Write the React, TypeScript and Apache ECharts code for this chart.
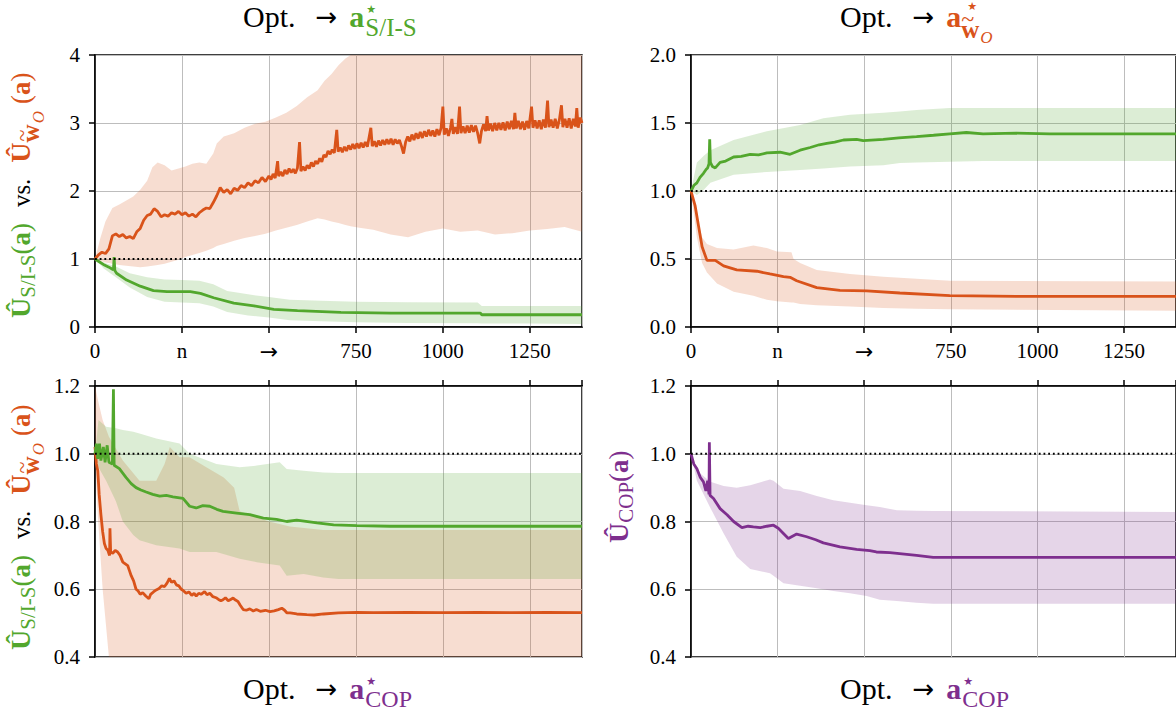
import React, { useEffect, useRef } from "react";
import * as echarts from "echarts";

const FONT = "'Liberation Serif', 'DejaVu Serif', serif";
const SANS = "'DejaVu Sans', sans-serif";
const GREEN = "#52a72d";
const ORANGE = "#d9531a";
const PURPLE = "#7e2f8e";
const GREEN_FILL = "rgba(82,167,45,0.2)";
const ORANGE_FILL = "rgba(217,83,26,0.2)";
const PURPLE_FILL = "rgba(126,47,142,0.2)";

// x tick labels of the two upper panels (values 0,250,...,1250)
const xTickLabels = ["0", "n", "→", "750", "1000", "1250"];

// ---------- top-left panel (Opt. -> a*_S/I-S) ----------
const tlGreen: [number, number][] = [
  [0, 1.0], [12, 0.96], [24, 0.92], [40, 0.88], [50, 0.85], [53, 0.84], [55, 1.03], [57, 0.83], [62, 0.79],
  [91, 0.69], [130, 0.6], [168, 0.535], [207, 0.52], [240, 0.52], [274, 0.52], [303, 0.495], [341, 0.43],
  [399, 0.35], [457, 0.31], [514, 0.26], [582, 0.24], [707, 0.215], [851, 0.205], [1108, 0.205], [1112, 0.18], [1400, 0.18],
];
// [x, lower, upper]
const tlGreenBand: [number, number, number][] = [
  [0, 1.0, 1.0], [25, 0.86, 0.95], [60, 0.73, 0.89], [100, 0.58, 0.79], [150, 0.44, 0.73], [200, 0.37, 0.7],
  [250, 0.36, 0.69], [300, 0.35, 0.68], [340, 0.3, 0.63], [380, 0.22, 0.53], [440, 0.17, 0.48], [500, 0.14, 0.44],
  [560, 0.1, 0.4], [650, 0.085, 0.385], [750, 0.07, 0.37], [900, 0.06, 0.365], [1100, 0.055, 0.36],
  [1112, 0.05, 0.31], [1250, 0.05, 0.31], [1400, 0.045, 0.31],
];
const tlOrange: [number, number][] = [
  [0, 1.0], [10, 1.06], [20, 1.1], [30, 1.08], [40, 1.15], [50, 1.34], [60, 1.37], [70, 1.33], [80, 1.36], [90, 1.31],
  [100, 1.33], [110, 1.3], [120, 1.4], [130, 1.45], [140, 1.57], [150, 1.64], [160, 1.66], [170, 1.74], [180, 1.7],
  [190, 1.62], [200, 1.65], [210, 1.63], [220, 1.68], [230, 1.66], [240, 1.7], [250, 1.65], [260, 1.68], [270, 1.63],
  [280, 1.66], [290, 1.62], [300, 1.68], [310, 1.72], [320, 1.75], [330, 1.74], [340, 1.83], [350, 1.93], [360, 2.05],
  [370, 1.98], [380, 2.02], [390, 1.96], [400, 2.04], [410, 2.01], [420, 2.08], [430, 2.05], [440, 2.12], [450, 2.08],
  [460, 2.15], [470, 2.12], [480, 2.2], [490, 2.14],
  [500, 2.22], [506, 2.17], [512, 2.25], [518, 2.19], [525, 2.44], [528, 2.22], [534, 2.28], [540, 2.22], [546, 2.31],
  [552, 2.25], [558, 2.33], [564, 2.27], [570, 2.32], [576, 2.26], [582, 2.34], [588, 2.72], [592, 2.29], [598, 2.36],
  [604, 2.3], [610, 2.38], [616, 2.33], [622, 2.42], [628, 2.36], [634, 2.44], [640, 2.4], [646, 2.48], [652, 2.43],
  [658, 2.53], [664, 2.5], [670, 2.59], [676, 2.54], [682, 2.61], [688, 2.56], [695, 2.9], [699, 2.58], [705, 2.64],
  [711, 2.57], [717, 2.65], [723, 2.59], [729, 2.67], [735, 2.61], [741, 2.69], [747, 2.62], [753, 2.7], [759, 2.63],
  [765, 2.71], [771, 2.64], [777, 2.72], [783, 2.65], [793, 2.93], [797, 2.66], [803, 2.73], [809, 2.65], [815, 2.74],
  [821, 2.67], [827, 2.75], [833, 2.68], [839, 2.76], [845, 2.69], [851, 2.77], [857, 2.68], [863, 2.76], [869, 2.7],
  [875, 2.75], [881, 2.66], [887, 2.55], [893, 2.72], [899, 2.8], [905, 2.73], [911, 2.83], [917, 2.75], [923, 2.85],
  [929, 2.77], [935, 2.87], [941, 2.78], [947, 2.88], [953, 2.8], [959, 2.9], [965, 2.81], [971, 2.89], [977, 2.8],
  [983, 2.91], [989, 2.82], [995, 2.93], [1000, 3.24], [1004, 2.83], [1010, 2.92], [1016, 2.81], [1022, 2.93],
  [1026, 3.06], [1030, 2.84], [1036, 2.94], [1042, 2.84], [1048, 3.24], [1052, 2.85], [1058, 2.95], [1064, 2.85],
  [1070, 2.96], [1076, 2.86], [1082, 2.97], [1088, 2.87], [1094, 2.96], [1100, 2.85], [1106, 2.7], [1111, 2.88],
  [1117, 2.98], [1123, 2.88], [1127, 3.1], [1131, 2.89], [1137, 2.99], [1143, 2.88], [1149, 3.0], [1155, 2.89],
  [1161, 3.0], [1167, 2.9], [1173, 3.01], [1179, 2.89], [1185, 3.02], [1191, 2.91], [1197, 3.03], [1203, 2.91],
  [1207, 3.15], [1211, 2.92], [1217, 3.03], [1223, 2.91], [1229, 3.02], [1235, 2.9], [1241, 3.03], [1247, 2.92],
  [1255, 3.24], [1259, 2.93], [1265, 3.04], [1271, 2.92], [1277, 3.04], [1283, 2.91], [1289, 3.05], [1295, 2.93],
  [1301, 3.33], [1305, 2.94], [1311, 3.05], [1317, 2.93], [1323, 3.06], [1329, 2.92], [1335, 3.05], [1341, 3.26],
  [1345, 2.94], [1351, 3.06], [1357, 2.93], [1363, 3.07], [1369, 2.92], [1375, 3.06], [1381, 2.95], [1385, 3.22],
  [1389, 2.93], [1395, 3.08], [1400, 3.0],
];
const tlOrangeBand: [number, number, number][] = [
  [0, 1.0, 1.0], [15, 0.97, 1.3], [30, 0.95, 1.55], [50, 0.93, 1.75], [70, 0.91, 1.8], [90, 0.9, 1.86],
  [110, 0.89, 1.92], [130, 0.88, 2.02], [150, 0.89, 2.15], [165, 0.9, 2.35], [180, 0.91, 2.42], [200, 0.93, 2.38],
  [220, 0.96, 2.3], [240, 0.99, 2.33], [260, 1.03, 2.36], [280, 1.06, 2.4], [300, 1.09, 2.42], [320, 1.12, 2.4],
  [340, 1.16, 2.55], [350, 1.19, 2.7], [370, 1.22, 2.8], [400, 1.27, 2.85], [430, 1.31, 2.93], [460, 1.34, 2.99],
  [490, 1.37, 3.02], [520, 1.42, 3.08], [550, 1.46, 3.15], [580, 1.5, 3.25], [610, 1.55, 3.38], [640, 1.6, 3.48],
  [660, 1.58, 3.62], [680, 1.55, 3.72], [700, 1.53, 3.85], [720, 1.5, 3.95], [735, 1.48, 4.0], [760, 1.46, 4.0],
  [800, 1.43, 4.0], [850, 1.36, 4.0], [900, 1.32, 4.0], [950, 1.4, 4.0], [1000, 1.45, 4.0], [1050, 1.4, 4.0],
  [1100, 1.42, 4.0], [1150, 1.36, 4.0], [1200, 1.38, 4.0], [1250, 1.42, 4.0], [1300, 1.44, 4.0], [1350, 1.47, 4.0],
  [1400, 1.4, 4.0],
];

// ---------- top-right panel (Opt. -> a*_w~O) ----------
const trGreen: [number, number][] = [
  [0, 1.0], [8, 1.04], [17, 1.06], [26, 1.1], [36, 1.13], [44, 1.16], [48, 1.17], [52, 1.2], [54, 1.38], [56, 1.21],
  [62, 1.18], [70, 1.17], [84, 1.21], [100, 1.22], [123, 1.25], [145, 1.255], [171, 1.27], [195, 1.265], [219, 1.28],
  [257, 1.285], [286, 1.27], [315, 1.3], [344, 1.32], [370, 1.34], [392, 1.35], [415, 1.36], [440, 1.375], [478, 1.38],
  [497, 1.37], [555, 1.38], [600, 1.39], [651, 1.4], [700, 1.41], [747, 1.42], [795, 1.43], [843, 1.42],
  [939, 1.425], [1035, 1.42], [1400, 1.42],
];
const trGreenBand: [number, number, number][] = [
  [0, 1.0, 1.0], [17, 0.97, 1.21], [37, 1.01, 1.26], [56, 1.06, 1.3], [123, 1.12, 1.375], [219, 1.14, 1.44],
  [315, 1.155, 1.485], [382, 1.165, 1.535], [459, 1.18, 1.56], [555, 1.19, 1.575], [603, 1.205, 1.585],
  [651, 1.21, 1.595], [747, 1.215, 1.61], [843, 1.22, 1.61], [1400, 1.22, 1.61],
];
const trOrange: [number, number][] = [
  [0, 1.0], [12, 0.89], [22, 0.74], [32, 0.59], [46, 0.49], [70, 0.49], [94, 0.45], [132, 0.42], [190, 0.41],
  [228, 0.39], [267, 0.37], [286, 0.365], [305, 0.34], [363, 0.29], [430, 0.27], [507, 0.265], [603, 0.25],
  [747, 0.23], [939, 0.225], [1400, 0.225],
];
const trOrangeBand: [number, number, number][] = [
  [0, 1.0, 1.0], [17, 0.66, 0.81], [32, 0.47, 0.66], [46, 0.4, 0.61], [75, 0.32, 0.58], [123, 0.26, 0.57],
  [180, 0.23, 0.6], [219, 0.2, 0.58], [248, 0.19, 0.555], [290, 0.18, 0.55], [296, 0.18, 0.5], [315, 0.17, 0.47],
  [363, 0.16, 0.42], [459, 0.15, 0.39], [555, 0.14, 0.37], [651, 0.135, 0.355], [747, 0.13, 0.34], [1400, 0.12, 0.335],
];

// ---------- bottom-left panel (Opt. -> a*_COP) ----------
const blGreen: [number, number][] = [
  [0, 1.0], [4, 1.03], [8, 0.985], [13, 1.03], [17, 0.98], [24, 1.02], [29, 0.975], [35, 1.025], [40, 0.975],
  [50, 0.97], [53, 1.19], [55, 0.966], [70, 0.956], [89, 0.93], [104, 0.912], [118, 0.9], [132, 0.893], [147, 0.887],
  [166, 0.88], [186, 0.875], [205, 0.877], [224, 0.873], [253, 0.868], [272, 0.845], [291, 0.84], [310, 0.847],
  [330, 0.845], [350, 0.836], [368, 0.83], [407, 0.825], [445, 0.82], [484, 0.81], [522, 0.806], [551, 0.8],
  [580, 0.804], [638, 0.796], [686, 0.79], [753, 0.788], [849, 0.786], [1400, 0.786],
];
const blGreenBand: [number, number, number][] = [
  [0, 1.0, 1.0], [10, 0.96, 1.1], [32, 0.92, 1.08], [60, 0.86, 1.075], [80, 0.8, 1.07], [110, 0.76, 1.065],
  [128, 0.745, 1.06], [176, 0.73, 1.045], [243, 0.72, 1.03], [272, 0.71, 1.0], [349, 0.71, 0.97], [416, 0.69, 0.96],
  [465, 0.68, 0.965], [531, 0.67, 0.975], [551, 0.64, 0.955], [600, 0.645, 0.95], [656, 0.635, 0.945],
  [700, 0.63, 0.943], [1400, 0.63, 0.943],
];
const blOrange: [number, number][] = [
  [0, 1.02], [4, 0.97], [8, 0.95], [12, 0.88], [17, 0.82], [22, 0.77], [27, 0.735], [32, 0.72], [37, 0.715], [40, 0.705],
  [42, 0.7], [43, 0.78], [45, 0.71], [51, 0.706], [58, 0.715], [65, 0.71], [72, 0.7], [80, 0.68], [87, 0.675], [94, 0.67],
  [99, 0.655], [104, 0.64], [111, 0.625], [118, 0.6], [124, 0.595], [130, 0.585], [137, 0.59], [146, 0.58], [155, 0.572],
  [160, 0.585], [168, 0.592], [176, 0.598], [184, 0.602], [192, 0.61], [200, 0.608], [207, 0.618], [214, 0.632],
  [220, 0.62], [227, 0.625], [234, 0.613], [241, 0.61], [248, 0.6], [255, 0.595], [262, 0.588], [270, 0.592],
  [278, 0.582], [285, 0.588], [291, 0.58], [298, 0.588], [305, 0.585], [315, 0.593], [322, 0.584], [330, 0.588],
  [339, 0.578], [348, 0.575], [355, 0.57], [362, 0.566], [368, 0.569], [375, 0.575], [383, 0.566], [390, 0.57],
  [397, 0.574], [404, 0.568], [411, 0.564], [418, 0.552], [426, 0.54], [435, 0.538], [445, 0.542], [455, 0.536],
  [464, 0.54], [475, 0.535], [490, 0.538], [503, 0.534], [515, 0.536], [527, 0.54], [537, 0.544], [545, 0.538],
  [552, 0.53], [561, 0.53], [580, 0.527], [609, 0.525], [630, 0.524], [657, 0.527], [700, 0.53], [753, 0.532],
  [800, 0.531], [900, 0.532], [1000, 0.531], [1100, 0.532], [1200, 0.531], [1300, 0.532], [1400, 0.531],
];
const blOrangeBand: [number, number, number][] = [
  [0, 1.0, 1.2], [8, 0.82, 1.16], [22, 0.6, 1.1], [40, 0.4, 1.05], [80, 0.4, 0.98], [128, 0.4, 0.92],
  [176, 0.4, 0.92], [200, 0.4, 0.97], [215, 0.4, 1.02], [243, 0.4, 0.99], [272, 0.4, 0.99], [320, 0.4, 0.96],
  [370, 0.4, 0.93], [400, 0.4, 0.9], [416, 0.4, 0.83], [500, 0.4, 0.8], [560, 0.4, 0.785], [656, 0.4, 0.775],
  [1400, 0.4, 0.775],
];

// ---------- bottom-right panel (Opt. -> a*_COP) ----------
const brPurple: [number, number][] = [
  [0, 1.0], [8, 0.97], [17, 0.956], [27, 0.93], [36, 0.917], [43, 0.89], [48, 0.92], [52, 0.88], [53, 1.034],
  [55, 0.877], [65, 0.868], [84, 0.838], [104, 0.82], [123, 0.8], [147, 0.782], [165, 0.786], [180, 0.784],
  [200, 0.782], [219, 0.786], [238, 0.789], [252, 0.78], [281, 0.75], [305, 0.763], [334, 0.755], [360, 0.746],
  [382, 0.737], [430, 0.725], [478, 0.718], [516, 0.714], [535, 0.71], [574, 0.708], [651, 0.7], [699, 0.694],
  [1400, 0.694],
];
const brPurpleBand: [number, number, number][] = [
  [0, 1.0, 1.0], [17, 0.92, 0.95], [56, 0.84, 0.917], [94, 0.765, 0.905], [132, 0.696, 0.9], [171, 0.66, 0.907],
  [228, 0.647, 0.924], [238, 0.64, 0.92], [267, 0.618, 0.897], [315, 0.61, 0.89], [363, 0.603, 0.875],
  [411, 0.595, 0.863], [459, 0.588, 0.855], [507, 0.58, 0.848], [545, 0.569, 0.843], [594, 0.565, 0.833],
  [651, 0.56, 0.832], [699, 0.557, 0.831], [1400, 0.557, 0.828],
];

// ---------- text helpers ----------
let measureCtx: CanvasRenderingContext2D | null = null;
function textWidth(t: string, s: number, w: string, st: string, ff: string) {
  if (!measureCtx) measureCtx = document.createElement("canvas").getContext("2d");
  measureCtx!.font = `${st} ${w} ${s}px ${ff}`;
  return measureCtx!.measureText(t).width;
}
type Piece = { t?: string; s?: number; w?: string; i?: boolean; c?: string; dy?: number; dx?: number; noAdv?: boolean; gap?: number; ff?: string };
function compose(pieces: Piece[], x: number, y: number, rotation = 0) {
  let cur = 0;
  const children: any[] = [];
  for (const p of pieces) {
    if (p.t === undefined) { cur += p.gap ?? 0; continue; }
    const s = p.s ?? 28;
    const w = p.w ?? "normal";
    const st = p.i ? "italic" : "normal";
    const ff = p.ff ?? FONT;
    const width = textWidth(p.t, s, w, st, ff);
    children.push({
      type: "text",
      x: cur + (p.dx ?? 0),
      y: (p.dy ?? 0) - 0.34 * s,
      silent: true,
      style: {
        text: p.t, fontSize: s, fontWeight: w, fontStyle: st, fontFamily: ff, fill: p.c ?? "#000",
        textAlign: "left", align: "left", textVerticalAlign: "middle", verticalAlign: "middle",
      },
    });
    if (!p.noAdv) cur += width + (p.dx ?? 0);
  }
  return { type: "group", x, y, rotation, children };
}

const STAR = "★";
function titlePieces(color: string, kind: "sis" | "w" | "cop"): Piece[] {
  const base: Piece[] = [
    { t: "Opt.", s: 30 }, { gap: 20 }, { t: "→", s: 26, ff: SANS, dy: -1 }, { gap: 12 },
    { t: "a", s: 30, w: "bold", c: color },
  ];
  if (kind === "sis") return [...base, { t: STAR, s: 11, ff: SANS, c: color, dy: -14, dx: 2, noAdv: true }, { t: "S/I-S", s: 25, c: color, dy: 9, dx: 1 }];
  if (kind === "cop") return [...base, { t: STAR, s: 11, ff: SANS, c: color, dy: -14, dx: 2, noAdv: true }, { t: "COP", s: 24, c: color, dy: 8, dx: 1 }];
  return [
    ...base,
    { t: STAR, s: 11, ff: SANS, c: color, dy: -17, dx: 6, noAdv: true },
    { t: "~", s: 24, c: color, dy: 0, dx: 0, noAdv: true },
    { t: "w", s: 25, w: "bold", c: color, dy: 11 },
    { t: "O", s: 17, i: true, c: color, dy: 16, dx: 1 },
  ];
}
function sisWoLabel(): Piece[] {
  return [
    { t: "Û", s: 28, w: "bold", c: GREEN },
    { t: "S/I-S", s: 21, c: GREEN, dy: 5 },
    { t: "(", s: 27, c: GREEN }, { t: "a", s: 27, w: "bold", c: GREEN }, { t: ")", s: 27, c: GREEN },
    { gap: 16 },
    { t: "vs.", s: 25, c: "#000" },
    { gap: 16 },
    { t: "Û", s: 28, w: "bold", c: ORANGE },
    { t: "~", s: 22, c: ORANGE, dy: -1, dx: 1, noAdv: true },
    { t: "w", s: 25, w: "bold", c: ORANGE, dy: 9 },
    { t: "O", s: 17, i: true, c: ORANGE, dy: 14, dx: 1 },
    { gap: 7 },
    { t: "(", s: 27, c: ORANGE }, { t: "a", s: 27, w: "bold", c: ORANGE }, { t: ")", s: 27, c: ORANGE },
  ];
}
function copLabel(): Piece[] {
  return [
    { t: "Û", s: 28, w: "bold", c: PURPLE },
    { t: "COP", s: 21, c: PURPLE, dy: 5 },
    { t: "(", s: 27, c: PURPLE }, { t: "a", s: 27, w: "bold", c: PURPLE }, { t: ")", s: 27, c: PURPLE },
  ];
}

const GRIDS = [
  { left: 95, top: 55, width: 487, height: 272 },
  { left: 691, top: 55, width: 487, height: 272 },
  { left: 95, top: 386, width: 487, height: 271 },
  { left: 691, top: 386, width: 487, height: 271 },
];
const Y_RANGES = [
  { min: 0, max: 4, interval: 1, digits: 0 },
  { min: 0, max: 2, interval: 0.5, digits: 1 },
  { min: 0.4, max: 1.2, interval: 0.2, digits: 1 },
  { min: 0.4, max: 1.2, interval: 0.2, digits: 1 },
];

function bandSeries(g: number, rows: [number, number, number][], fill: string) {
  return {
    type: "custom", xAxisIndex: g, yAxisIndex: g, silent: true, z: 1,
    data: rows.map((r) => [r[0], r[1], r[2]]),
    encode: { x: 0, y: [1, 2] },
    renderItem: (params: any, api: any) => {
      if (params.dataIndex !== 0) return null;
      const top = rows.map((r) => api.coord([r[0], r[2]]));
      const bot = rows.map((r) => api.coord([r[0], r[1]])).reverse();
      return { type: "polygon", shape: { points: top.concat(bot) }, style: { fill, stroke: "none" } };
    },
  };
}
function lineSeries(g: number, data: [number, number][], color: string) {
  return {
    type: "line", xAxisIndex: g, yAxisIndex: g, data, symbol: "none", showSymbol: false,
    lineStyle: { color, width: 2.8 }, itemStyle: { color }, silent: true, z: 3,
  };
}
function refLine(g: number) {
  return {
    type: "line", xAxisIndex: g, yAxisIndex: g, data: [[0, 1], [1400, 1]], symbol: "none", silent: true, z: 4,
    lineStyle: { color: "#000", width: 1.8, type: [1.8, 2.9] },
  };
}

export default function App() {
  const ref = useRef<HTMLDivElement>(null);
  useEffect(() => {
    if (!ref.current) return;
    const chart = echarts.init(ref.current, undefined, { renderer: "svg" });
    const xLabelFmt = (v: number) => {
      const i = Math.round(v / 250);
      if (Math.abs(v - i * 250) > 1e-6 || i >= xTickLabels.length) return "";
      const lbl = xTickLabels[i];
      return lbl === "→" ? "{arr|→}" : lbl;
    };
    const option: any = {
      animation: false,
      backgroundColor: "#fff",
      grid: GRIDS.map((g) => ({ ...g, show: true, borderColor: "#000", borderWidth: 1.5, backgroundColor: "transparent" })),
      xAxis: GRIDS.map((_, i) => ({
        type: "value", gridIndex: i, min: 0, max: 1400, interval: 250, position: i < 2 ? "bottom" : "top",
        axisLine: { show: true, onZero: false, lineStyle: { color: "#000", width: 1.5 } },
        axisTick: { show: true, length: 6, lineStyle: { color: "#000", width: 1.5 } },
        axisLabel: i < 2
          ? {
              show: true, formatter: xLabelFmt, fontFamily: FONT, fontSize: 21, color: "#000", margin: 13, showMaxLabel: false,
              rich: { arr: { fontFamily: SANS, fontSize: 22, color: "#000" } },
            }
          : { show: false },
        splitLine: { show: true, lineStyle: { color: "#bdbdbd", width: 1 } },
      })),
      yAxis: Y_RANGES.map((r, i) => ({
        type: "value", gridIndex: i, min: r.min, max: r.max, interval: r.interval,
        axisLine: { show: true, onZero: false, lineStyle: { color: "#000", width: 1.5 } },
        axisTick: { show: true, length: 6, lineStyle: { color: "#000", width: 1.5 } },
        axisLabel: { formatter: (v: number) => v.toFixed(r.digits), fontFamily: FONT, fontSize: 21, color: "#000", margin: 15 },
        splitLine: { show: true, lineStyle: { color: "#bdbdbd", width: 1 } },
      })),
      series: [
        bandSeries(0, tlOrangeBand, ORANGE_FILL),
        bandSeries(0, tlGreenBand, GREEN_FILL),
        lineSeries(0, tlOrange, ORANGE),
        lineSeries(0, tlGreen, GREEN),
        refLine(0),
        bandSeries(1, trOrangeBand, ORANGE_FILL),
        bandSeries(1, trGreenBand, GREEN_FILL),
        lineSeries(1, trOrange, ORANGE),
        lineSeries(1, trGreen, GREEN),
        refLine(1),
        bandSeries(2, blOrangeBand, ORANGE_FILL),
        bandSeries(2, blGreenBand, GREEN_FILL),
        lineSeries(2, blOrange, ORANGE),
        lineSeries(2, blGreen, GREEN),
        refLine(2),
        bandSeries(3, brPurpleBand, PURPLE_FILL),
        lineSeries(3, brPurple, PURPLE),
        refLine(3),
      ],
      graphic: [
        compose(titlePieces(GREEN, "sis"), 243, 27),
        compose(titlePieces(ORANGE, "w"), 840, 27),
        compose(titlePieces(PURPLE, "cop"), 243, 699),
        compose(titlePieces(PURPLE, "cop"), 840, 699),
        compose(sisWoLabel(), 30, 318, Math.PI / 2),
        compose(sisWoLabel(), 30, 650, Math.PI / 2),
        compose(copLabel(), 628, 543, Math.PI / 2),
      ],
    };
    chart.setOption(option);
    return () => chart.dispose();
  }, []);
  return <div ref={ref} style={{ position: "fixed", left: 0, top: 0, width: 1176, height: 713 }} />;
}
